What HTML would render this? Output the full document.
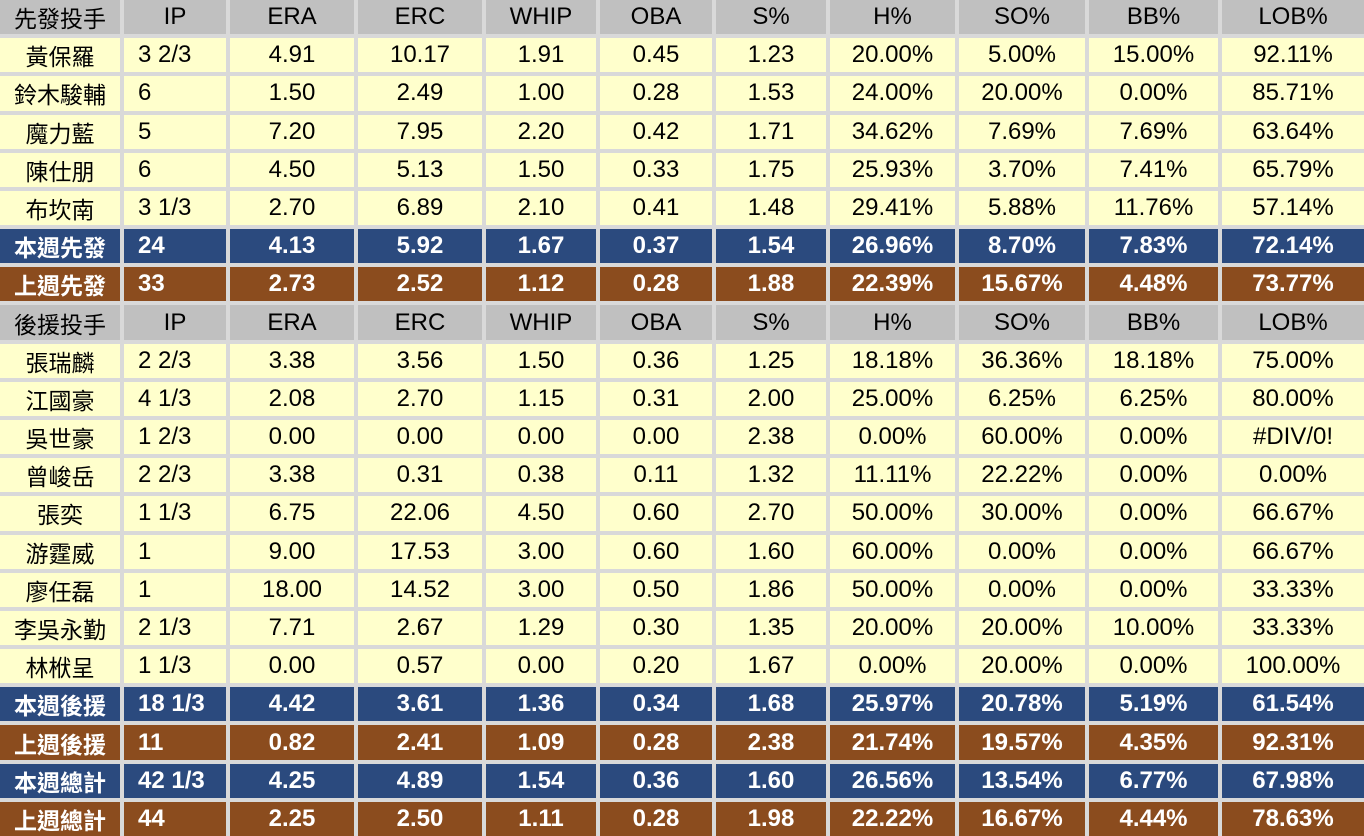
<!DOCTYPE html><html><head><meta charset="utf-8"><style>
body{margin:0;width:1364px;height:836px;overflow:hidden;background:#d9d9d9}
.g{display:grid;grid-template-columns:120px 102px 124px 124px 110px 112px 110px 125px 126px 129px 142px;grid-template-rows:repeat(22,1fr);gap:4px;width:1364px;height:836px;font-family:"Liberation Sans","Noto Sans CJK TC",sans-serif;font-size:24px;color:#000}
.g div{display:flex;align-items:center;justify-content:center;white-space:nowrap}
.h{background:#c0c0c0}.y{background:#ffffcc}.b{background:#2b4a7e;color:#fff;font-weight:bold}.r{background:#8b4c1e;color:#fff;font-weight:bold}
.g div.l{justify-content:flex-start;padding-left:14px}
.g div.n{font-size:23px}
</style></head><body><div class="g" id="g"></div>
<script>
var rows=[
["h","先發投手","IP","ERA","ERC","WHIP","OBA","S%","H%","SO%","BB%","LOB%"],
["y","黃保羅","3 2/3","4.91","10.17","1.91","0.45","1.23","20.00%","5.00%","15.00%","92.11%"],
["y","鈴木駿輔","6","1.50","2.49","1.00","0.28","1.53","24.00%","20.00%","0.00%","85.71%"],
["y","魔力藍","5","7.20","7.95","2.20","0.42","1.71","34.62%","7.69%","7.69%","63.64%"],
["y","陳仕朋","6","4.50","5.13","1.50","0.33","1.75","25.93%","3.70%","7.41%","65.79%"],
["y","布坎南","3 1/3","2.70","6.89","2.10","0.41","1.48","29.41%","5.88%","11.76%","57.14%"],
["b","本週先發","24","4.13","5.92","1.67","0.37","1.54","26.96%","8.70%","7.83%","72.14%"],
["r","上週先發","33","2.73","2.52","1.12","0.28","1.88","22.39%","15.67%","4.48%","73.77%"],
["h","後援投手","IP","ERA","ERC","WHIP","OBA","S%","H%","SO%","BB%","LOB%"],
["y","張瑞麟","2 2/3","3.38","3.56","1.50","0.36","1.25","18.18%","36.36%","18.18%","75.00%"],
["y","江國豪","4 1/3","2.08","2.70","1.15","0.31","2.00","25.00%","6.25%","6.25%","80.00%"],
["y","吳世豪","1 2/3","0.00","0.00","0.00","0.00","2.38","0.00%","60.00%","0.00%","#DIV/0!"],
["y","曾峻岳","2 2/3","3.38","0.31","0.38","0.11","1.32","11.11%","22.22%","0.00%","0.00%"],
["y","張奕","1 1/3","6.75","22.06","4.50","0.60","2.70","50.00%","30.00%","0.00%","66.67%"],
["y","游霆威","1","9.00","17.53","3.00","0.60","1.60","60.00%","0.00%","0.00%","66.67%"],
["y","廖任磊","1","18.00","14.52","3.00","0.50","1.86","50.00%","0.00%","0.00%","33.33%"],
["y","李吳永勤","2 1/3","7.71","2.67","1.29","0.30","1.35","20.00%","20.00%","10.00%","33.33%"],
["y","林栿呈","1 1/3","0.00","0.57","0.00","0.20","1.67","0.00%","20.00%","0.00%","100.00%"],
["b","本週後援","18 1/3","4.42","3.61","1.36","0.34","1.68","25.97%","20.78%","5.19%","61.54%"],
["r","上週後援","11","0.82","2.41","1.09","0.28","2.38","21.74%","19.57%","4.35%","92.31%"],
["b","本週總計","42 1/3","4.25","4.89","1.54","0.36","1.60","26.56%","13.54%","6.77%","67.98%"],
["r","上週總計","44","2.25","2.50","1.11","0.28","1.98","22.22%","16.67%","4.44%","78.63%"]];
var h="";rows.forEach(function(r){var c=r[0];for(var i=1;i<r.length;i++){var l="";if(i==2&&c!="h")l=" l";if(i==1&&(c=="b"||c=="r"))l=" l";if(i==1&&c!="b"&&c!="r")l+=" n";else if(i==1)l+=" n";h+='<div class="'+c+l+'">'+r[i]+'</div>';}});
document.getElementById("g").innerHTML=h;
</script></body></html>
